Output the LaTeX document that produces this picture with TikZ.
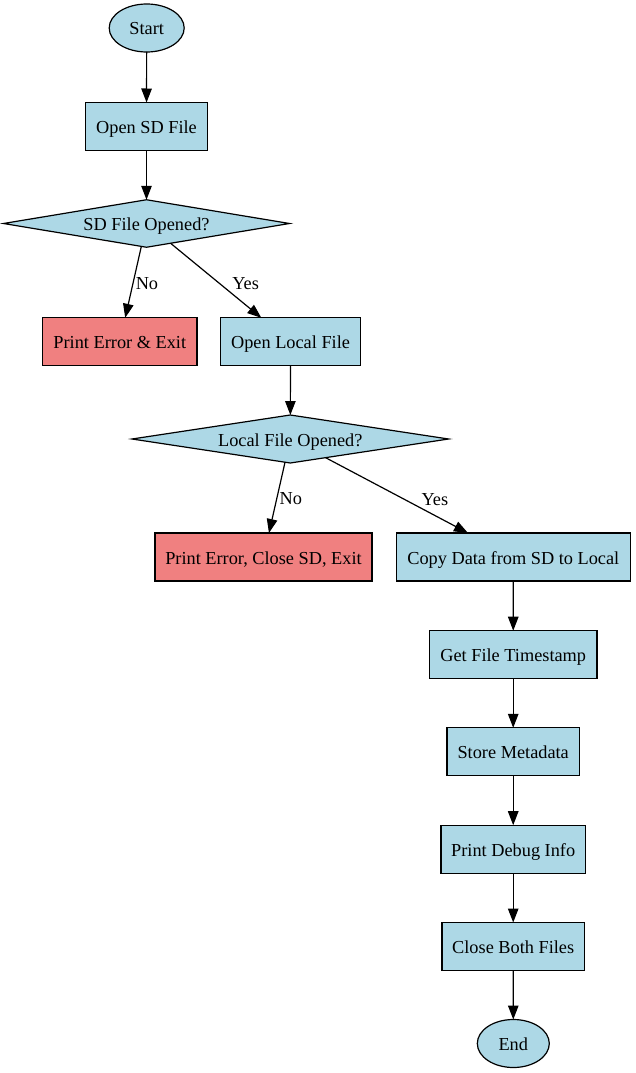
\documentclass[tikz,border=0pt]{standalone}
\usepackage{fontspec}
\setmainfont{Liberation Serif}
\usetikzlibrary{shapes.geometric,arrows.meta}
\definecolor{nodeblue}{RGB}{173,216,230}
\definecolor{nodecoral}{RGB}{240,128,128}
\tikzset{
  base/.style={draw=black, line width=1.2pt, inner sep=0pt, outer sep=0pt, minimum height=48pt, text height=14pt, text depth=0pt, font=\fontsize{18.3}{22}\selectfont},
  proc/.style={base, rectangle, fill=nodeblue},
  errbox/.style={base, rectangle, fill=nodecoral},
  term/.style={base, ellipse, fill=nodeblue},
  decision/.style={base, diamond, fill=nodeblue, aspect=6},
  edge/.style={draw=black, line width=1.2pt, -{Triangle[length=14pt,width=10.5pt]}},
  lbl/.style={font=\fontsize{18.3}{22}\selectfont, inner sep=0pt}
}
\begin{document}
\begin{tikzpicture}[x=1pt,y=-1pt]
\useasboundingbox[fill=white] (0,0) rectangle (635,1073);
\node[term, minimum width=75pt] (start) at (146.7,28) {Start};
\node[proc, minimum width=121.6pt] (open) at (146.5,126.5) {Open SD File};
\node[decision, minimum width=286pt, minimum height=47.5pt] (d1) at (146.5,223.5) {SD File Opened?};
\node[errbox, minimum width=154.3pt] (pe1) at (119.8,341.8) {Print Error \& Exit};
\node[proc, minimum width=139.6pt] (ol) at (290.5,341.8) {Open Local File};
\node[decision, minimum width=316.6pt] (d2) at (290.3,439) {Local File Opened?};
\node[errbox, minimum width=217pt] (pe2) at (263.5,557) {Print Error, Close SD, Exit};
\node[proc, minimum width=233.7pt] (cp) at (513.3,557) {Copy Data from SD to Local};
\node[proc, minimum width=167.7pt] (ts) at (513.2,654.7) {Get File Timestamp};
\node[proc, minimum width=132.6pt] (sm) at (513.2,751.8) {Store Metadata};
\node[proc, minimum width=144.6pt] (pd) at (513.2,849.2) {Print Debug Info};
\node[proc, minimum width=142.3pt] (cb) at (513.2,946.5) {Close Both Files};
\node[term, minimum width=72pt] (end) at (513.3,1043.5) {End};

\draw[edge] (start) -- (open);
\draw[edge] (open) -- (d1);
\draw[edge] (d1) -- node[lbl, pos=0.52, xshift=14pt] {No} (pe1);
\draw[edge] (d1) -- node[lbl, pos=0.54, xshift=26pt] {Yes} (ol);
\draw[edge] (ol) -- (d2);
\draw[edge] (d2) -- node[lbl, pos=0.51, xshift=14pt] {No} (pe2);
\draw[edge] (d2) -- node[lbl, pos=0.55, xshift=31pt] {Yes} (cp);
\draw[edge] (cp) -- (ts);
\draw[edge] (ts) -- (sm);
\draw[edge] (sm) -- (pd);
\draw[edge] (pd) -- (cb);
\draw[edge] (cb) -- (end);
\end{tikzpicture}
\end{document}
